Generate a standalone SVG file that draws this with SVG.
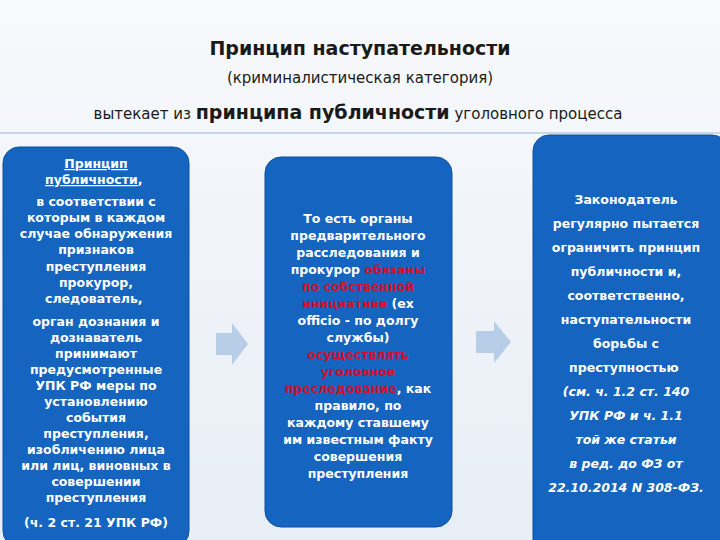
<svg xmlns="http://www.w3.org/2000/svg" width="720" height="540" viewBox="0 0 720 540">
<defs>
<style>
.box{fill:#1565c0;stroke:#0d4f9e;stroke-width:1}
.t{font-family:"DejaVu Sans",Verdana,sans-serif;font-size:12.5px;font-weight:bold;fill:#fff;text-anchor:middle}
.h{font-family:"DejaVu Sans",Verdana,sans-serif;fill:#1a1a1a;text-anchor:middle}
.r{fill:#d0102a}
.arr{fill:#b8cde8}
</style>
<linearGradient id="bg" x1="0" y1="0" x2="0" y2="1"><stop offset="0" stop-color="#f7f9fc"/><stop offset="1" stop-color="#e8eef6"/></linearGradient>
</defs>
<rect width="720" height="540" fill="url(#bg)"/>
<text class="h" x="360" y="55" font-size="19" font-weight="bold">Принцип наступательности</text>
<text class="h" x="360" y="83" font-size="15">(криминалистическая категория)</text>
<text class="h" x="358" y="119" font-size="15">вытекает из <tspan font-size="19" font-weight="bold">принципа публичности</tspan> уголовного процесса</text>
<line x1="0" y1="133" x2="720" y2="133" stroke="#c9d6e8" stroke-width="2"/>
<g id="connectors">
<path class="arr" d="M216 333 H232 V323 L248 344 L232 365 V355 H216 Z"/>
<path class="arr" d="M476 331 H494 V321 L511 342 L494 363 V353 H476 Z"/>
</g>
<g id="node-left">
<rect class="box" x="3" y="147" width="186" height="400" rx="16"/>
<text class="t"><tspan x="96" y="168" text-decoration="underline">Принцип</tspan><tspan x="96" y="184"><tspan text-decoration="underline">публичности</tspan>,</tspan>
<tspan x="96" y="206">в соответствии с</tspan><tspan x="96" y="222">которым в каждом</tspan><tspan x="96" y="238">случае обнаружения</tspan><tspan x="96" y="254">признаков</tspan><tspan x="96" y="271">преступления</tspan><tspan x="96" y="287">прокурор,</tspan><tspan x="96" y="303">следователь,</tspan>
<tspan x="96" y="326">орган дознания и</tspan><tspan x="96" y="342">дознаватель</tspan><tspan x="96" y="358">принимают</tspan><tspan x="96" y="374">предусмотренные</tspan><tspan x="96" y="390">УПК РФ меры по</tspan><tspan x="96" y="406">установлению</tspan><tspan x="96" y="422">события</tspan><tspan x="96" y="438">преступления,</tspan><tspan x="96" y="454">изобличению лица</tspan><tspan x="96" y="470">или лиц, виновных в</tspan><tspan x="96" y="486">совершении</tspan><tspan x="96" y="502">преступления</tspan><tspan x="96" y="527">(ч. 2 ст. 21 УПК РФ)</tspan></text>
</g>
<g id="node-middle">
<rect class="box" x="265" y="157" width="187" height="370" rx="16"/>
<text class="t"><tspan x="358" y="223">То есть органы</tspan><tspan x="358" y="240">предварительного</tspan><tspan x="358" y="257">расследования и</tspan><tspan x="358" y="274">прокурор <tspan class="r">обязаны</tspan></tspan><tspan x="358" y="291" class="r">по собственной</tspan><tspan x="358" y="308"><tspan class="r">инициативе</tspan> (ех</tspan><tspan x="358" y="325">officio - по долгу</tspan><tspan x="358" y="342">службы)</tspan><tspan x="358" y="359" class="r">осуществлять</tspan><tspan x="358" y="376" class="r">уголовное</tspan><tspan x="358" y="393"><tspan class="r">преследование</tspan>, как</tspan><tspan x="358" y="410">правило, по</tspan><tspan x="358" y="427">каждому ставшему</tspan><tspan x="358" y="444">им известным факту</tspan><tspan x="358" y="461">совершения</tspan><tspan x="358" y="478">преступления</tspan></text>
</g>
<g id="node-right">
<rect class="box" x="533" y="135" width="195" height="420" rx="16"/>
<text class="t" font-size="13.5"><tspan x="626" y="204">Законодатель</tspan><tspan x="626" y="228">регулярно пытается</tspan><tspan x="626" y="252">ограничить принцип</tspan><tspan x="626" y="276">публичности и,</tspan><tspan x="626" y="300">соответственно,</tspan><tspan x="626" y="324">наступательности</tspan><tspan x="626" y="348">борьбы с</tspan><tspan x="626" y="372">преступностью</tspan>
<tspan font-style="italic"><tspan x="626" y="396">(см. ч. 1.2 ст. 140</tspan><tspan x="626" y="420">УПК РФ и ч. 1.1</tspan><tspan x="626" y="444">той же статьи</tspan><tspan x="626" y="468">в ред. до  ФЗ от</tspan><tspan x="626" y="492">22.10.2014 N 308-ФЗ.</tspan></tspan></text>
</g>
</svg>
